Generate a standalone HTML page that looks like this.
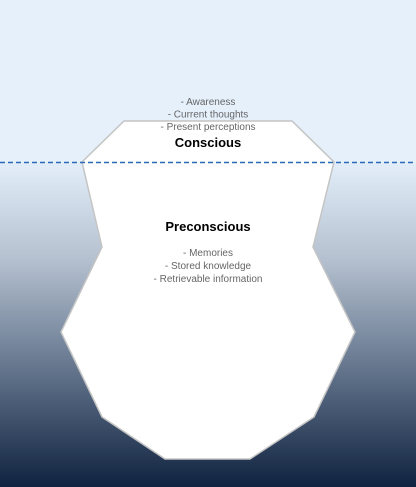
<!DOCTYPE html>
<html><head><style>
html,body{margin:0;padding:0;width:416px;height:487px;overflow:hidden;}
body{background:#e6f0fb;font-family:"Liberation Sans",sans-serif;}
</style></head><body>
<svg width="416" height="487" xmlns="http://www.w3.org/2000/svg" style="position:absolute;left:0;top:0">
<defs><linearGradient id="g" x1="0" y1="0" x2="0" y2="1">
<stop offset="0" stop-color="#e3eefa"/><stop offset="0.3" stop-color="#b4c0cf"/><stop offset="0.6" stop-color="#6c7d94"/><stop offset="1" stop-color="#0f223f"/></linearGradient></defs>
<rect x="0" y="0" width="416" height="163" fill="#e6f0fb"/>
<rect x="0" y="163" width="416" height="324" fill="url(#g)"/>
<polygon points="124,121 292,121 334,162 313,247 355,332 314,417 250,459 165,459 102,417 61,332 102,247 82,162" fill="#fff" stroke="#c4c4c4" stroke-width="1.5"/>
<line x1="0" y1="162.5" x2="416" y2="162.5" stroke="#2a6ab8" stroke-width="1.5" stroke-dasharray="5,3"/>
<g font-size="10" fill="#666" text-anchor="middle">
<text x="208" y="105">- Awareness</text>
<text x="208" y="117.5">- Current thoughts</text>
<text x="208" y="130">- Present perceptions</text>
<text x="208" y="256">- Memories</text>
<text x="208" y="269">- Stored knowledge</text>
<text x="208" y="282">- Retrievable information</text>
</g>
<g font-size="13" font-weight="bold" fill="#000" text-anchor="middle">
<text x="208" y="147">Conscious</text>
<text x="208" y="231">Preconscious</text>
</g>
</svg>
</body></html>
